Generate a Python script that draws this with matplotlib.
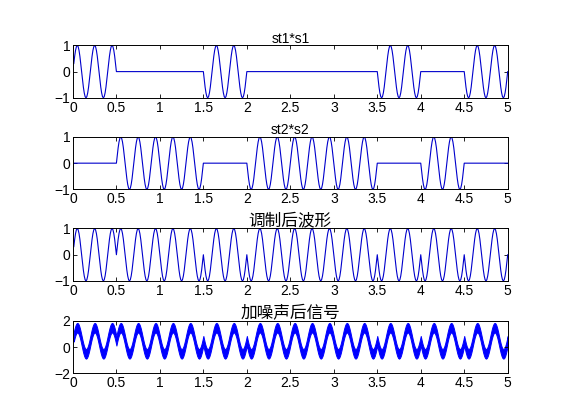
import numpy as np
import matplotlib
matplotlib.use("Agg")
import matplotlib.pyplot as plt

plt.rcParams['font.family'] = ['Liberation Sans', 'Noto Sans CJK SC', 'DejaVu Sans']

# 码元序列 (每个码元 0.5 s), 1 -> s1 载波, 0 -> s2 载波
bits = [1, 0, 0, 1, 0, 0, 0, 1, 0, 1]
bit_len = 0.5
carrier_freq = 5.0
dt = 0.01
# 噪声带 (相对于调制信号的偏移)
noise_low = 0.12
noise_high = 0.85

titles = ["st1*s1", "st2*s2", "调制后波形", "加噪声后信号"]
title_sizes = [10, 10, 12, 12]
ylims = [(-1, 1), (-1, 1), (-1, 1), (-2, 2)]
yticks = [[-1, 0, 1], [-1, 0, 1], [-1, 0, 1], [-2, 0, 2]]
xticks = [0, 0.5, 1, 1.5, 2, 2.5, 3, 3.5, 4, 4.5, 5]
xticklabels = ["0", "0.5", "1", "1.5", "2", "2.5", "3", "3.5", "4", "4.5", "5"]

t = np.arange(dt, len(bits) * bit_len + dt / 2, dt)
idx = np.minimum((t / bit_len + 1e-9).astype(int), len(bits) - 1)
st1 = np.array(bits)[idx]
st2 = 1 - st1
s1 = np.sin(2 * np.pi * carrier_freq * t)
s2 = -np.sin(2 * np.pi * carrier_freq * t)
y1 = st1 * s1
y2 = st2 * s2
y3 = y1 + y2

fig = plt.figure(figsize=(5.61, 4.2), dpi=100)
bottoms = [0.767, 0.549, 0.331, 0.111]
height = 0.125

for k in range(4):
    ax = fig.add_axes([0.13, bottoms[k], 0.775, height])
    if k == 0:
        ax.plot(t, y1, color='#0000cc', lw=0.8)
    elif k == 1:
        ax.plot(t, y2, color='#0000cc', lw=0.8)
    elif k == 2:
        ax.plot(t, y3, color='#0000cc', lw=0.8)
    else:
        ax.fill_between(t, y3 + noise_low, y3 + noise_high, color='b', lw=0.7, edgecolor='b')
    ax.set_xlim(0, 5)
    ax.set_ylim(*ylims[k])
    ax.set_xticks(xticks)
    ax.set_xticklabels(xticklabels)
    ax.set_yticks(yticks[k])
    ax.tick_params(direction='in', top=True, right=True, length=3, width=0.6,
                   labelsize=10, pad=2)
    for sp in ax.spines.values():
        sp.set_linewidth(0.7)
    ax.set_title(titles[k], fontsize=title_sizes[k], pad=2)

fig.savefig("out.png", dpi=100)
